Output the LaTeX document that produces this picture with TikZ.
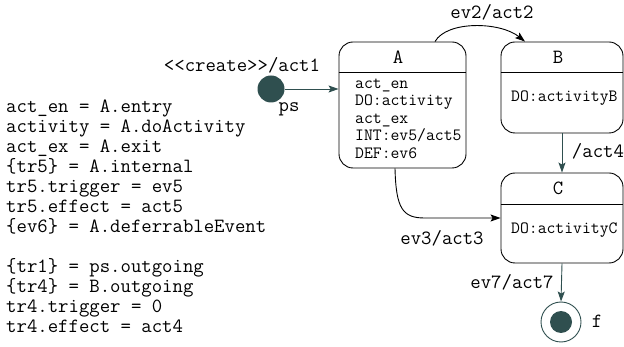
\documentclass[tikz,border=0pt]{standalone}
\usetikzlibrary{arrows.meta,calc}
\definecolor{slate}{RGB}{47,79,79}
\tikzset{
  big/.style={font=\ttfamily\fontsize{20.2}{20}\selectfont, inner sep=0pt},
  small/.style={font=\ttfamily\fontsize{17.2}{17.5}\selectfont, inner sep=0pt},
  statebox/.style={draw, line width=0.9pt, rounded corners=14pt, inner sep=0pt},
  sep/.style={line width=0.9pt},
  arr/.style={line width=0.9pt, -{Stealth[length=10pt,width=7pt,inset=2pt]}},
}
\begin{document}
\begin{tikzpicture}[x=1pt,y=-1pt]
\path[use as bounding box] (0,0) rectangle (624,347);

% left text
\foreach \yy/\txt [count=\i] in {
  113/{act\_en = A.entry},
  133/{activity = A.doActivity},
  153/{act\_ex = A.exit},
  173/{\{tr5\} = A.internal},
  193/{tr5.trigger = ev5},
  213/{tr5.effect = act5},
  233/{\{ev6\} = A.deferrableEvent},
  273/{\{tr1\} = ps.outgoing},
  293/{\{tr4\} = B.outgoing},
  313/{tr4.trigger = 0},
  333/{tr4.effect = act4}}
  \node[big, anchor=base west] (L\i) at (6,\yy) {\txt};

% states
\node[statebox, minimum width=127pt, minimum height=126pt] (A) at (402.5,105) {};
\draw[sep] (A.west |- 0,72) -- (A.east |- 0,72);
\node[big] (At) at (398,57) {A};
\foreach \yy/\txt [count=\i] in {
  88.5/{act\_en}, 106/{DO:activity}, 123.5/{act\_ex}, 141/{INT:ev5/act5}, 158.5/{DEF:ev6}}
  \node[small, anchor=base west] (Al\i) at (355,\yy) {\txt};

\node[statebox, minimum width=122pt, minimum height=91pt] (B) at (562,87.5) {};
\draw[sep] (B.west |- 0,72) -- (B.east |- 0,72);
\node[big] (Bt) at (558,57) {B};
\node[small, anchor=base west] (Bl) at (511,102) {DO:activityB};

\node[statebox, minimum width=122pt, minimum height=90pt] (C) at (562,218) {};
\draw[sep] (C.west |- 0,204) -- (C.east |- 0,204);
\node[big] (Ct) at (558,188) {C};
\node[small, anchor=base west] (Cl) at (511,234) {DO:activityC};

% pseudo states
\node[circle, fill=slate, minimum size=27pt, inner sep=0pt] (ps) at (271,89) {};
\node[big, anchor=base] (psl) at (289,112) {ps};
\node[circle, draw=slate, line width=0.9pt, minimum size=40pt, inner sep=0pt] (f) at (561,322) {};
\node[circle, fill=slate, minimum size=22pt, inner sep=0pt] (fin) at (f) {};
\node[big, anchor=base] (fl) at (597,327) {f};

% transitions
\draw[arr, slate] (ps.east) -- (A.west |- ps.east);
\node[big, anchor=base] (l1) at (242,72) {<\kern0pt<create>\kern0pt>/act1};

\draw[arr] ([xshift=32.5pt]A.north) .. controls +(12,-21) and +(-25,-20) .. ([xshift=-37pt]B.north);
\node[big, anchor=base] (l2) at (492,18.5) {ev2/act2};

\draw[arr] ([xshift=-7.5pt]A.south) .. controls +(1,40) and +(-22,0) .. ([xshift=-76pt]C.west) -- (C.west);
\node[big, anchor=base] (l3) at (442,245) {ev3/act3};

\draw[arr, slate] (B.south) -- (C.north);
\node[big, anchor=base] (l4) at (598,158) {/act4};

\draw[arr, slate] (C.south) -- (f.north);
\node[big, anchor=base] (l7) at (512,289) {ev7/act7};
\end{tikzpicture}
\end{document}
